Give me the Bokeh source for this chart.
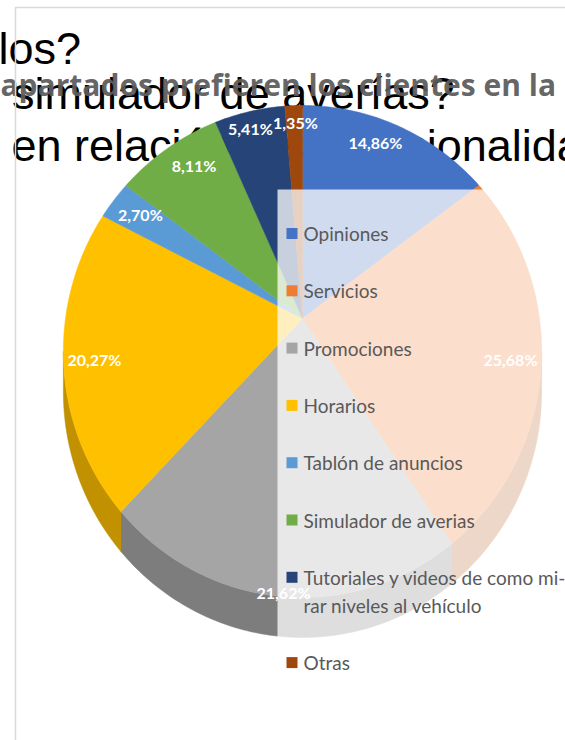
import numpy as np
from bokeh.plotting import figure
from bokeh.models import Range1d
from bokeh.embed import file_html
from bokeh.resources import INLINE
from bokeh.core.properties import value

# ---------------- data ----------------
categories = ["Opiniones", "Servicios", "Promociones", "Horarios",
              "Tablón de anuncios", "Simulador de averias",
              "Tutoriales y videos de como mirar niveles al vehículo", "Otras"]
percentages = [14.86, 25.68, 21.62, 20.27, 2.70, 8.11, 5.41, 1.35]
legend_labels = ["Opiniones", "Servicios", "Promociones", "Horarios",
                 "Tablón de anuncios", "Simulador de averias",
                 "Tutoriales y videos de como mi-\nrar niveles al vehículo", "Otras"]
colors = ["#4472C4", "#ED7D31", "#A5A5A5", "#FFC000",
          "#5B9BD5", "#70AD47", "#264478", "#9E480E"]
title_text = "apartados prefieren los clientes en la"
background_lines = ["los?", "el simulador de averías?", "en relación a su funcionalidad"]

# ---------------- layout / style ----------------
W, H = 565, 740
AX, AY = 302.0, 318.0            # pie apex (page px)
SX, SY, P = 237.0, 241.6, 0.134  # perspective ellipse
DEPTH = 40.0

def darken(hexcol, f):
    h = hexcol.lstrip("#")
    r, g, b = (int(h[i:i + 2], 16) for i in (0, 2, 4))
    return "#%02x%02x%02x" % (int(r * f), int(g * f), int(b * f))

def proj(theta, r=1.0, dy=0.0):
    theta = np.asarray(theta, dtype=float)
    d = 1 + P * r * np.cos(theta)
    return AX + SX * r * np.sin(theta) / d, AY - SY * r * np.cos(theta) / d + dy

p = figure(width=W, height=H, x_range=Range1d(0, W), y_range=Range1d(H, 0),
           output_backend="svg", toolbar_location=None, min_border=0)
p.axis.visible = False
p.grid.visible = False
p.outline_line_color = None
p.background_fill_color = "white"
p.border_fill_color = "white"

# background black text (behind the chart)
bg_x = [-2, -36, 11]
bg_y = [48, 93, 145]
p.text(x=bg_x, y=bg_y, text=background_lines, text_font=value("Liberation Sans"),
       text_font_size="45px", text_color="black", text_baseline="alphabetic",
       text_align="left")

# chart title (grey, on top of black text)
p.text(x=[0], y=[84], text=[title_text], text_font=value("Open Sans"),
       text_font_size="30px", text_font_style="bold", text_color="#5c5c5c",
       text_alpha=0.95, text_baseline="alphabetic", text_align="left")

# chart area border
p.line(x=[15, 15, 570], y=[745, 7, 7], line_color="#d9d9d9", line_width=1.5)

# ---------------- pie ----------------
fr = np.array(percentages) / sum(percentages)
cum = np.concatenate([[0], np.cumsum(fr)]) * 2 * np.pi
tR = np.arccos(-P)
tL = 2 * np.pi - tR

side_xs, side_ys, side_cols = [], [], []
top_xs, top_ys = [], []
for i in range(len(percentages)):
    t0, t1 = cum[i], cum[i + 1]
    th = np.linspace(t0, t1, max(3, int((t1 - t0) * 60)))
    x, y = proj(th)
    top_xs.append(np.concatenate([[AX], x]).tolist())
    top_ys.append(np.concatenate([[AY], y]).tolist())
    a, b = max(t0, tR), min(t1, tL)
    if a < b:
        ts = np.linspace(a, b, max(3, int((b - a) * 60)))
        xa, ya = proj(ts)
        xb, yb = proj(ts[::-1], dy=DEPTH)
        side_xs.append(np.concatenate([xa, xb]).tolist())
        side_ys.append(np.concatenate([ya, yb]).tolist())
        side_cols.append(darken(colors[i], 0.76))

p.patches(xs=side_xs, ys=side_ys, fill_color=side_cols, line_color=side_cols, line_width=0.5)
p.patches(xs=top_xs, ys=top_ys, fill_color=colors, line_color=colors, line_width=0.5)

# legend box (semi-transparent) over the pie
LEG_L, LEG_T, LEG_B = 277, 189, 641
p.quad(left=[LEG_L], right=[600], top=[LEG_T], bottom=[LEG_B],
       fill_color="white", fill_alpha=0.75, line_color=None)

LEG_Y0, LEG_STEP, LEG_WRAP = 233.0, 57.3, 28.0
mk_x, mk_y, mk_c = [], [], []
tx, ty, tt = [], [], []
extra = 0.0
for i, lab in enumerate(legend_labels):
    yy = LEG_Y0 + LEG_STEP * i + extra
    mk_x.append(291.5)
    mk_y.append(yy)
    mk_c.append(colors[i])
    for j, line in enumerate(lab.split("\n")):
        tx.append(303)
        ty.append(yy + LEG_WRAP * j)
        tt.append(line)
    extra += LEG_WRAP * (len(lab.split("\n")) - 1)
p.rect(x=mk_x, y=mk_y, width=11, height=11, fill_color=mk_c, line_color=None)
p.text(x=tx, y=ty, text=tt, text_font=value("Lato"), text_font_size="19px",
       text_color="#595959", text_baseline="middle", text_align="left")

# data labels (inside end)
labels = [("%.2f" % v).replace(".", ",") + "%" for v in percentages]
LH = 17.0
lx, ly, lw = [], [], []
for i, lab in enumerate(labels):
    mid = (cum[i] + cum[i + 1]) / 2
    ex, ey = proj(mid)
    w = 9.0 * len(lab)
    sxn = float(np.clip(1.6 * np.sin(mid), -1, 1))
    cyn = float(np.clip(1.6 * np.cos(mid), -1, 1))
    if cyn < 0:
        cyn *= 0.2
    lx.append(float(ex) - (w / 2 + 4) * sxn)
    ly.append(float(ey) + LH * cyn)
    lw.append(w)
for i in range(len(labels) - 1):
    if abs(ly[i] - ly[i + 1]) < LH and lx[i] < lx[i + 1] and lx[i] + lw[i] / 2 > lx[i + 1] - lw[i + 1] / 2:
        lx[i] = lx[i + 1] - lw[i + 1] / 2 - lw[i] / 2
p.text(x=lx, y=ly, text=labels, text_font=value("Lato"), text_font_size="16px",
       text_font_style="bold", text_color="white", text_baseline="middle",
       text_align="center")

open("out.html", "w").write(file_html(p, INLINE))
